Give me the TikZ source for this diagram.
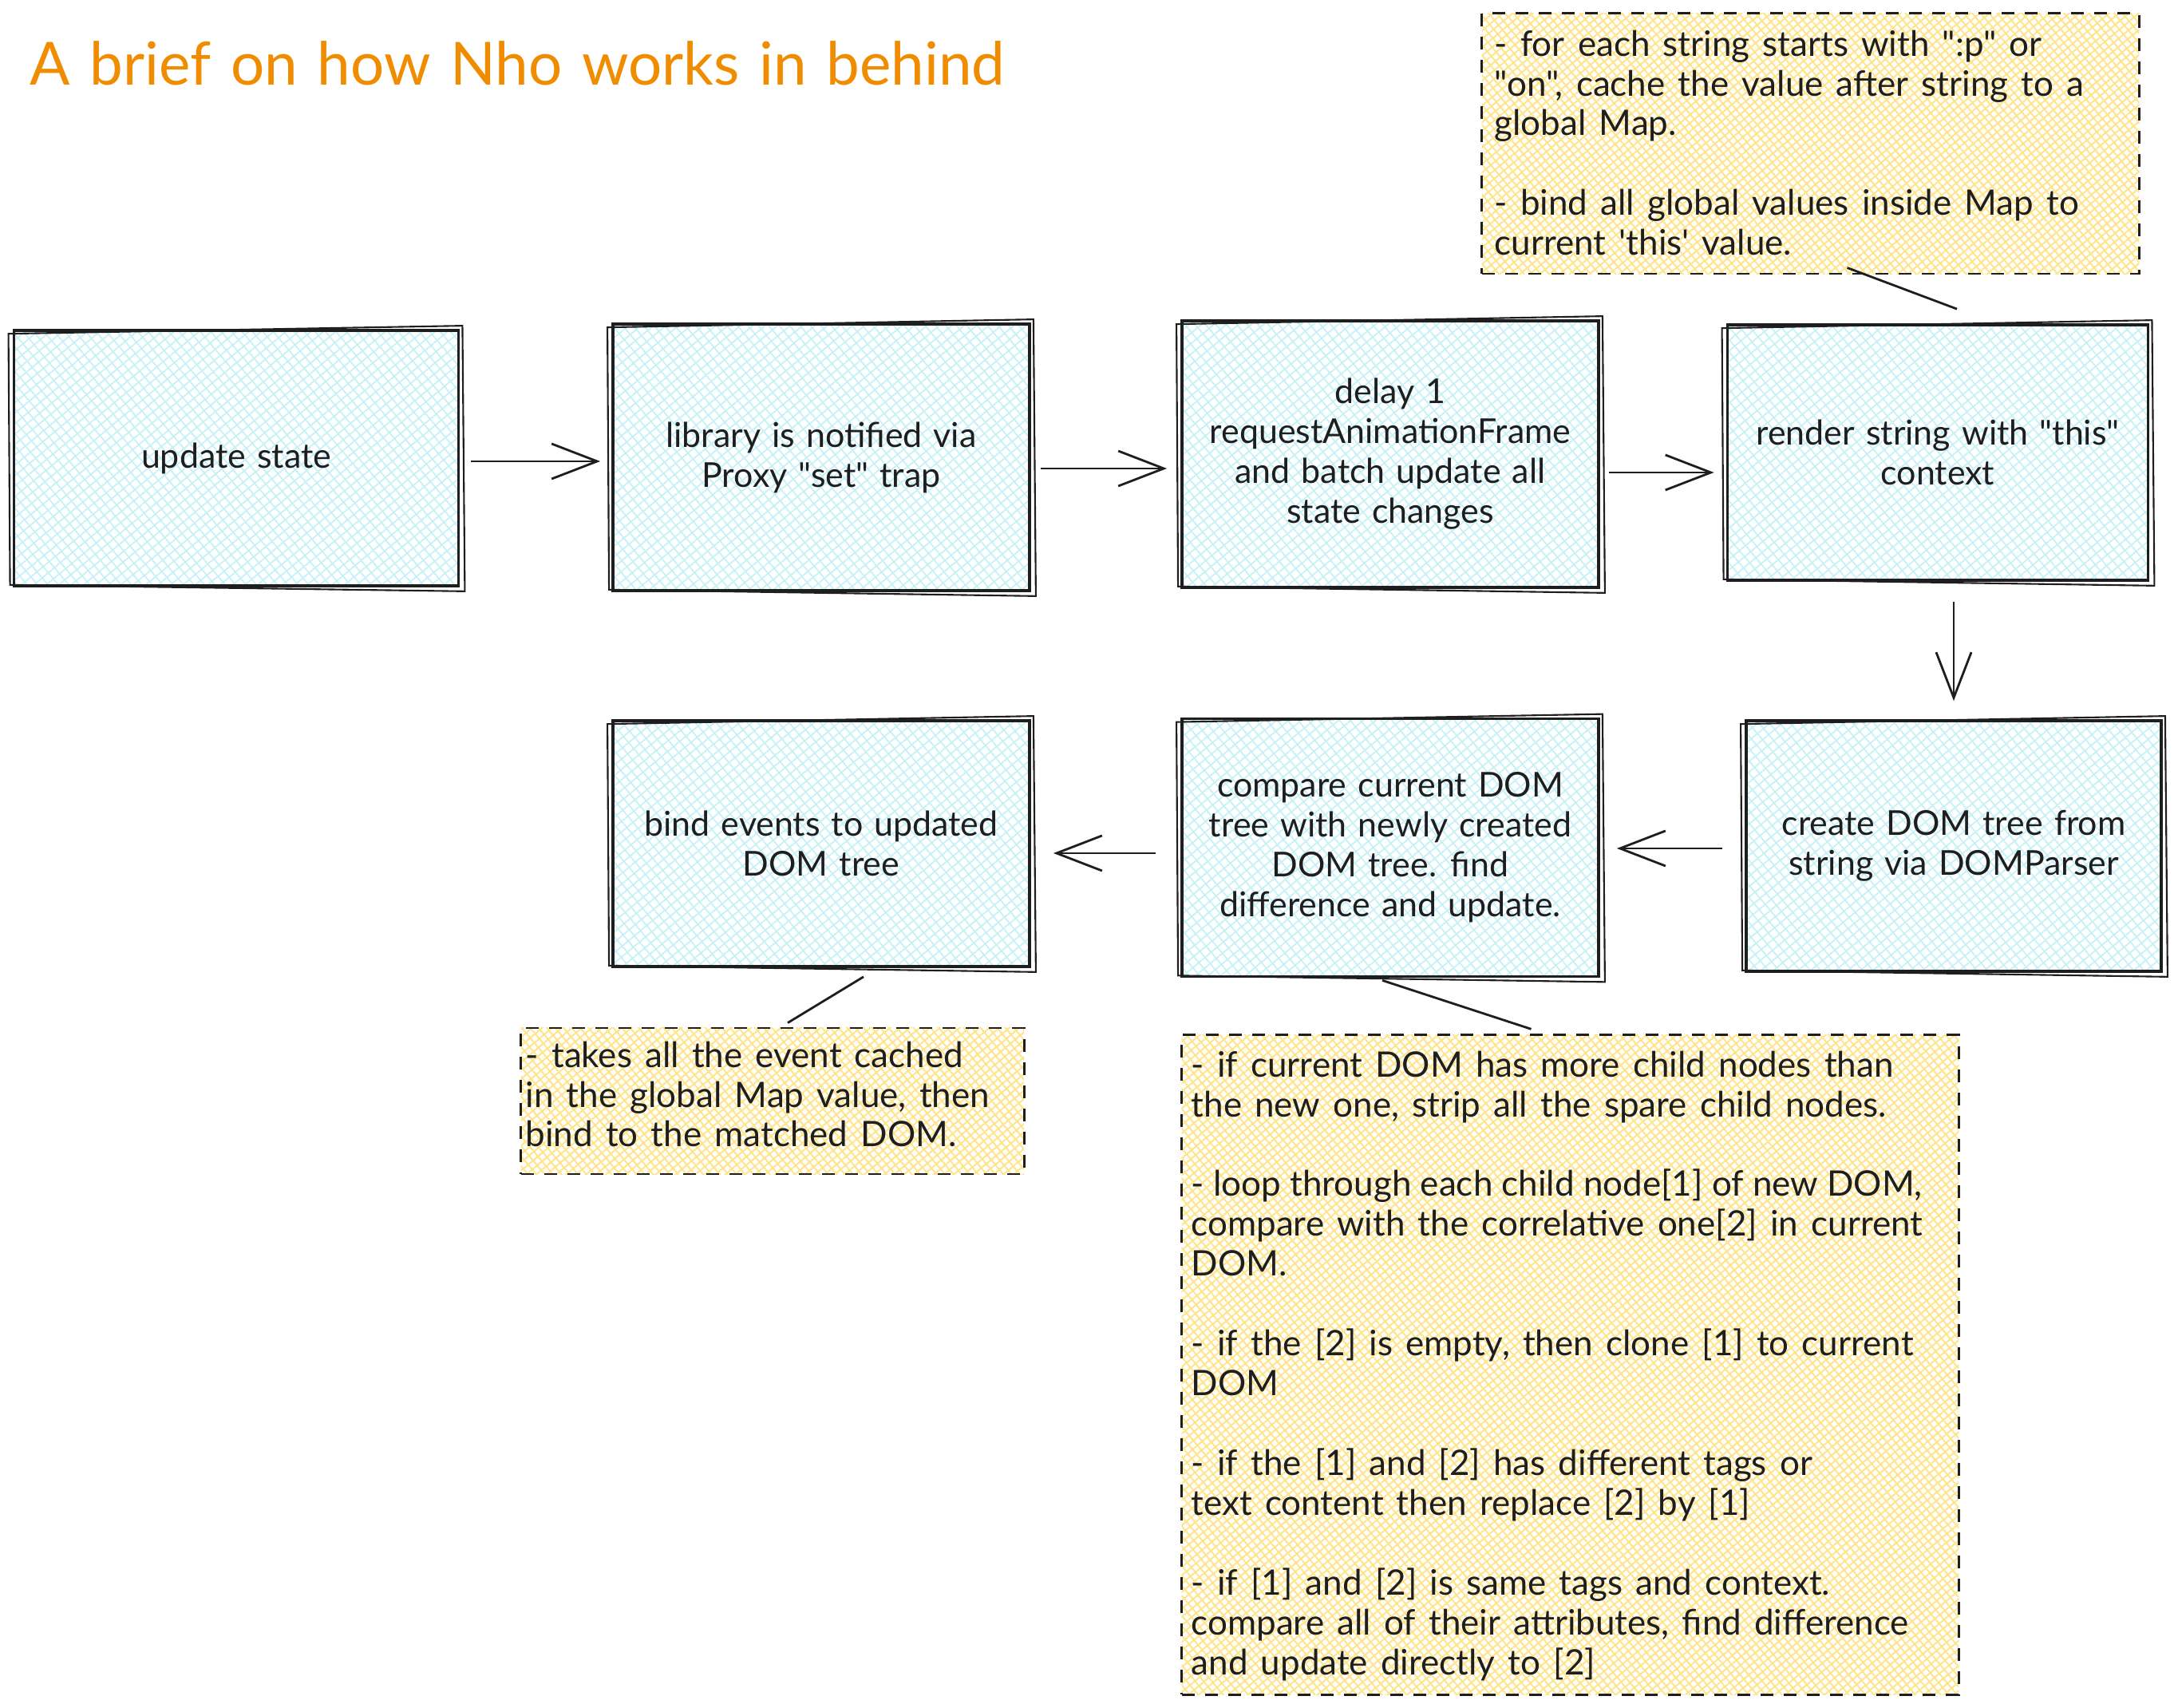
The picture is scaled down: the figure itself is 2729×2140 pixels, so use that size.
\documentclass[tikz,border=0pt]{standalone}
\usepackage{fontspec}
\newfontfamily\hand{Lato}
\newcommand\myboxfont{\hand\fontsize{12.2}{14.2}\selectfont\spaceskip=4pt plus 1pt minus 1pt\relax}
\newcommand\mynotefont{\hand\fontsize{12.5}{14.2}\selectfont\spaceskip=4.6pt plus 1pt minus 1pt\relax}
\newcommand\mytitlefont{\hand\fontsize{21.2}{25}\selectfont\spaceskip=7pt plus 1pt minus 1pt\relax}
\newcommand\tightsp{\spaceskip=3.2pt plus 1pt minus 1pt\relax}
\usetikzlibrary{arrows.meta,calc,patterns.meta}
\definecolor{ink}{HTML}{1E1E1E}
\definecolor{hatchC}{HTML}{C5F1F7}
\definecolor{hatchY}{HTML}{FFE48A}
\definecolor{titleC}{HTML}{F08C00}
\begin{document}
\begin{tikzpicture}[x=0.01cm,y=-0.01cm,
  txt/.style={font=\myboxfont, text=ink},
  box/.style={txt, draw=ink, line width=1pt, align=center, inner sep=0pt,
    preaction={pattern={Lines[angle=40,distance=0.1cm,line width=0.018cm]},pattern color=hatchC},
    preaction={pattern={Lines[angle=-50,distance=0.1cm,line width=0.018cm]},pattern color=hatchC}},
  sketch/.style={draw=ink, line width=0.6pt},
  note/.style={draw=ink, line width=0.8pt, dash pattern=on 0.16cm off 0.13cm, inner sep=0pt,
    preaction={pattern={Lines[angle=40,distance=0.08cm,line width=0.02cm]},pattern color=hatchY},
    preaction={pattern={Lines[angle=-50,distance=0.08cm,line width=0.02cm]},pattern color=hatchY}},
  notetext/.style={font=\mynotefont, text=ink, align=left, anchor=north west, inner sep=0pt},
  arr/.style={draw=ink, line width=0.8pt, -{Straight Barb[length=0.57cm,width=0.44cm]}},
  link/.style={draw=ink, line width=0.8pt}]
\useasboundingbox (0,0) rectangle (2729,2140);

% title
\node[anchor=base west, inner sep=0pt, font=\mytitlefont, text=titleC] (title) at (37,107) {A brief on how Nho works in behind};

% process boxes
\node[box, minimum width=5.57cm, minimum height=3.20cm] (b1) at (296,574) {update state};
\node[box, minimum width=5.22cm, minimum height=3.34cm] (b2) at (1029,573) {library is notified via\\Proxy "set" trap};
\node[box, minimum width=5.22cm, minimum height=3.34cm] (b3) at (1742,569) {delay 1\\requestAnimationFrame\\and batch update all\\state changes};
\node[box, minimum width=5.27cm, minimum height=3.20cm] (b4) at (2428,567) {render string with "this"\\context};
\node[box, minimum width=5.20cm, minimum height=3.14cm] (b5) at (2448,1060) {create DOM tree from\\string via DOMParser};
\node[box, minimum width=5.22cm, minimum height=3.23cm] (b6) at (1742,1062) {compare current DOM\\tree with newly created\\DOM tree. find\\difference and update.};
\node[box, minimum width=5.22cm, minimum height=3.08cm] (b7) at (1029,1057) {bind events to updated\\DOM tree};

% sketchy second outlines
\foreach \b in {b1,b2,b3,b4,b5,b6,b7}{
  \draw[sketch] ($(\b.north west)+(-5,6)$) -- ($(\b.north east)+(3,-4)$) -- ($(\b.south east)+(6,5)$) -- ($(\b.south west)+(-3,-3)$) -- cycle;
}

% notes
\node[note, minimum width=8.23cm, minimum height=3.26cm] (n1) at (2268.5,180) {};
\node[notetext] (n1t) at (1872,37) {- for each string starts with ":p" or\\"on", cache the value after string to a\\global Map.\\[0.5cm]- bind all global values inside Map to\\current 'this' value.};

\node[note, minimum width=6.30cm, minimum height=1.83cm] (n2) at (968,1379.5) {};
\node[notetext] (n2t) at (658,1304) {- takes all the event cached\\in the global Map value, then\\bind to the matched DOM.};

\node[note, minimum width=9.73cm, minimum height=8.26cm] (n3) at (1967.5,1710) {};
\node[notetext] (n3t) at (1492,1316) {- if current DOM has more child nodes than\\the new one, strip all the spare child nodes.\\[0.5cm]{\tightsp- loop through each child node[1] of new DOM,}\\compare with the correlative one[2] in current\\DOM.\\[0.5cm]- if the [2] is empty, then clone [1] to current\\DOM\\[0.5cm]- if the [1] and [2] has different tags or\\text content then replace [2] by [1]\\[0.5cm]- if [1] and [2] is same tags and context.\\compare all of their attributes, find difference\\and update directly to [2]};

% arrows
\draw[arr] ($(b1.east)+(14,4)$) -- ($(b2.west)+(-14,5)$);
\draw[arr] ($(b2.east)+(12,14)$) -- ($(b3.west)+(-17,18)$);
\draw[arr] ($(b3.east)+(11,23)$) -- ($(b4.west)+(-15,25)$);
\draw[arr] ($(b4.south)+(20,25)$) -- ($(b5.north)+(0,-23)$);
\draw[arr] ($(b5.west)+(-28,3)$) -- ($(b6.east)+(21,1)$);
\draw[arr] ($(b6.west)+(-31,7)$) -- ($(b7.east)+(28,12)$);

% note links
\draw[link] ($(n1.south)+(46,-9)$) -- ($(b4.north)+(24,-18)$);
\draw[link] ($(b7.south)+(53,11)$) -- ($(n2.north)+(19,-5)$);
\draw[link] ($(b6.south)+(-10,3)$) -- ($(n3.north)+(-49,-6)$);
\end{tikzpicture}
\end{document}
